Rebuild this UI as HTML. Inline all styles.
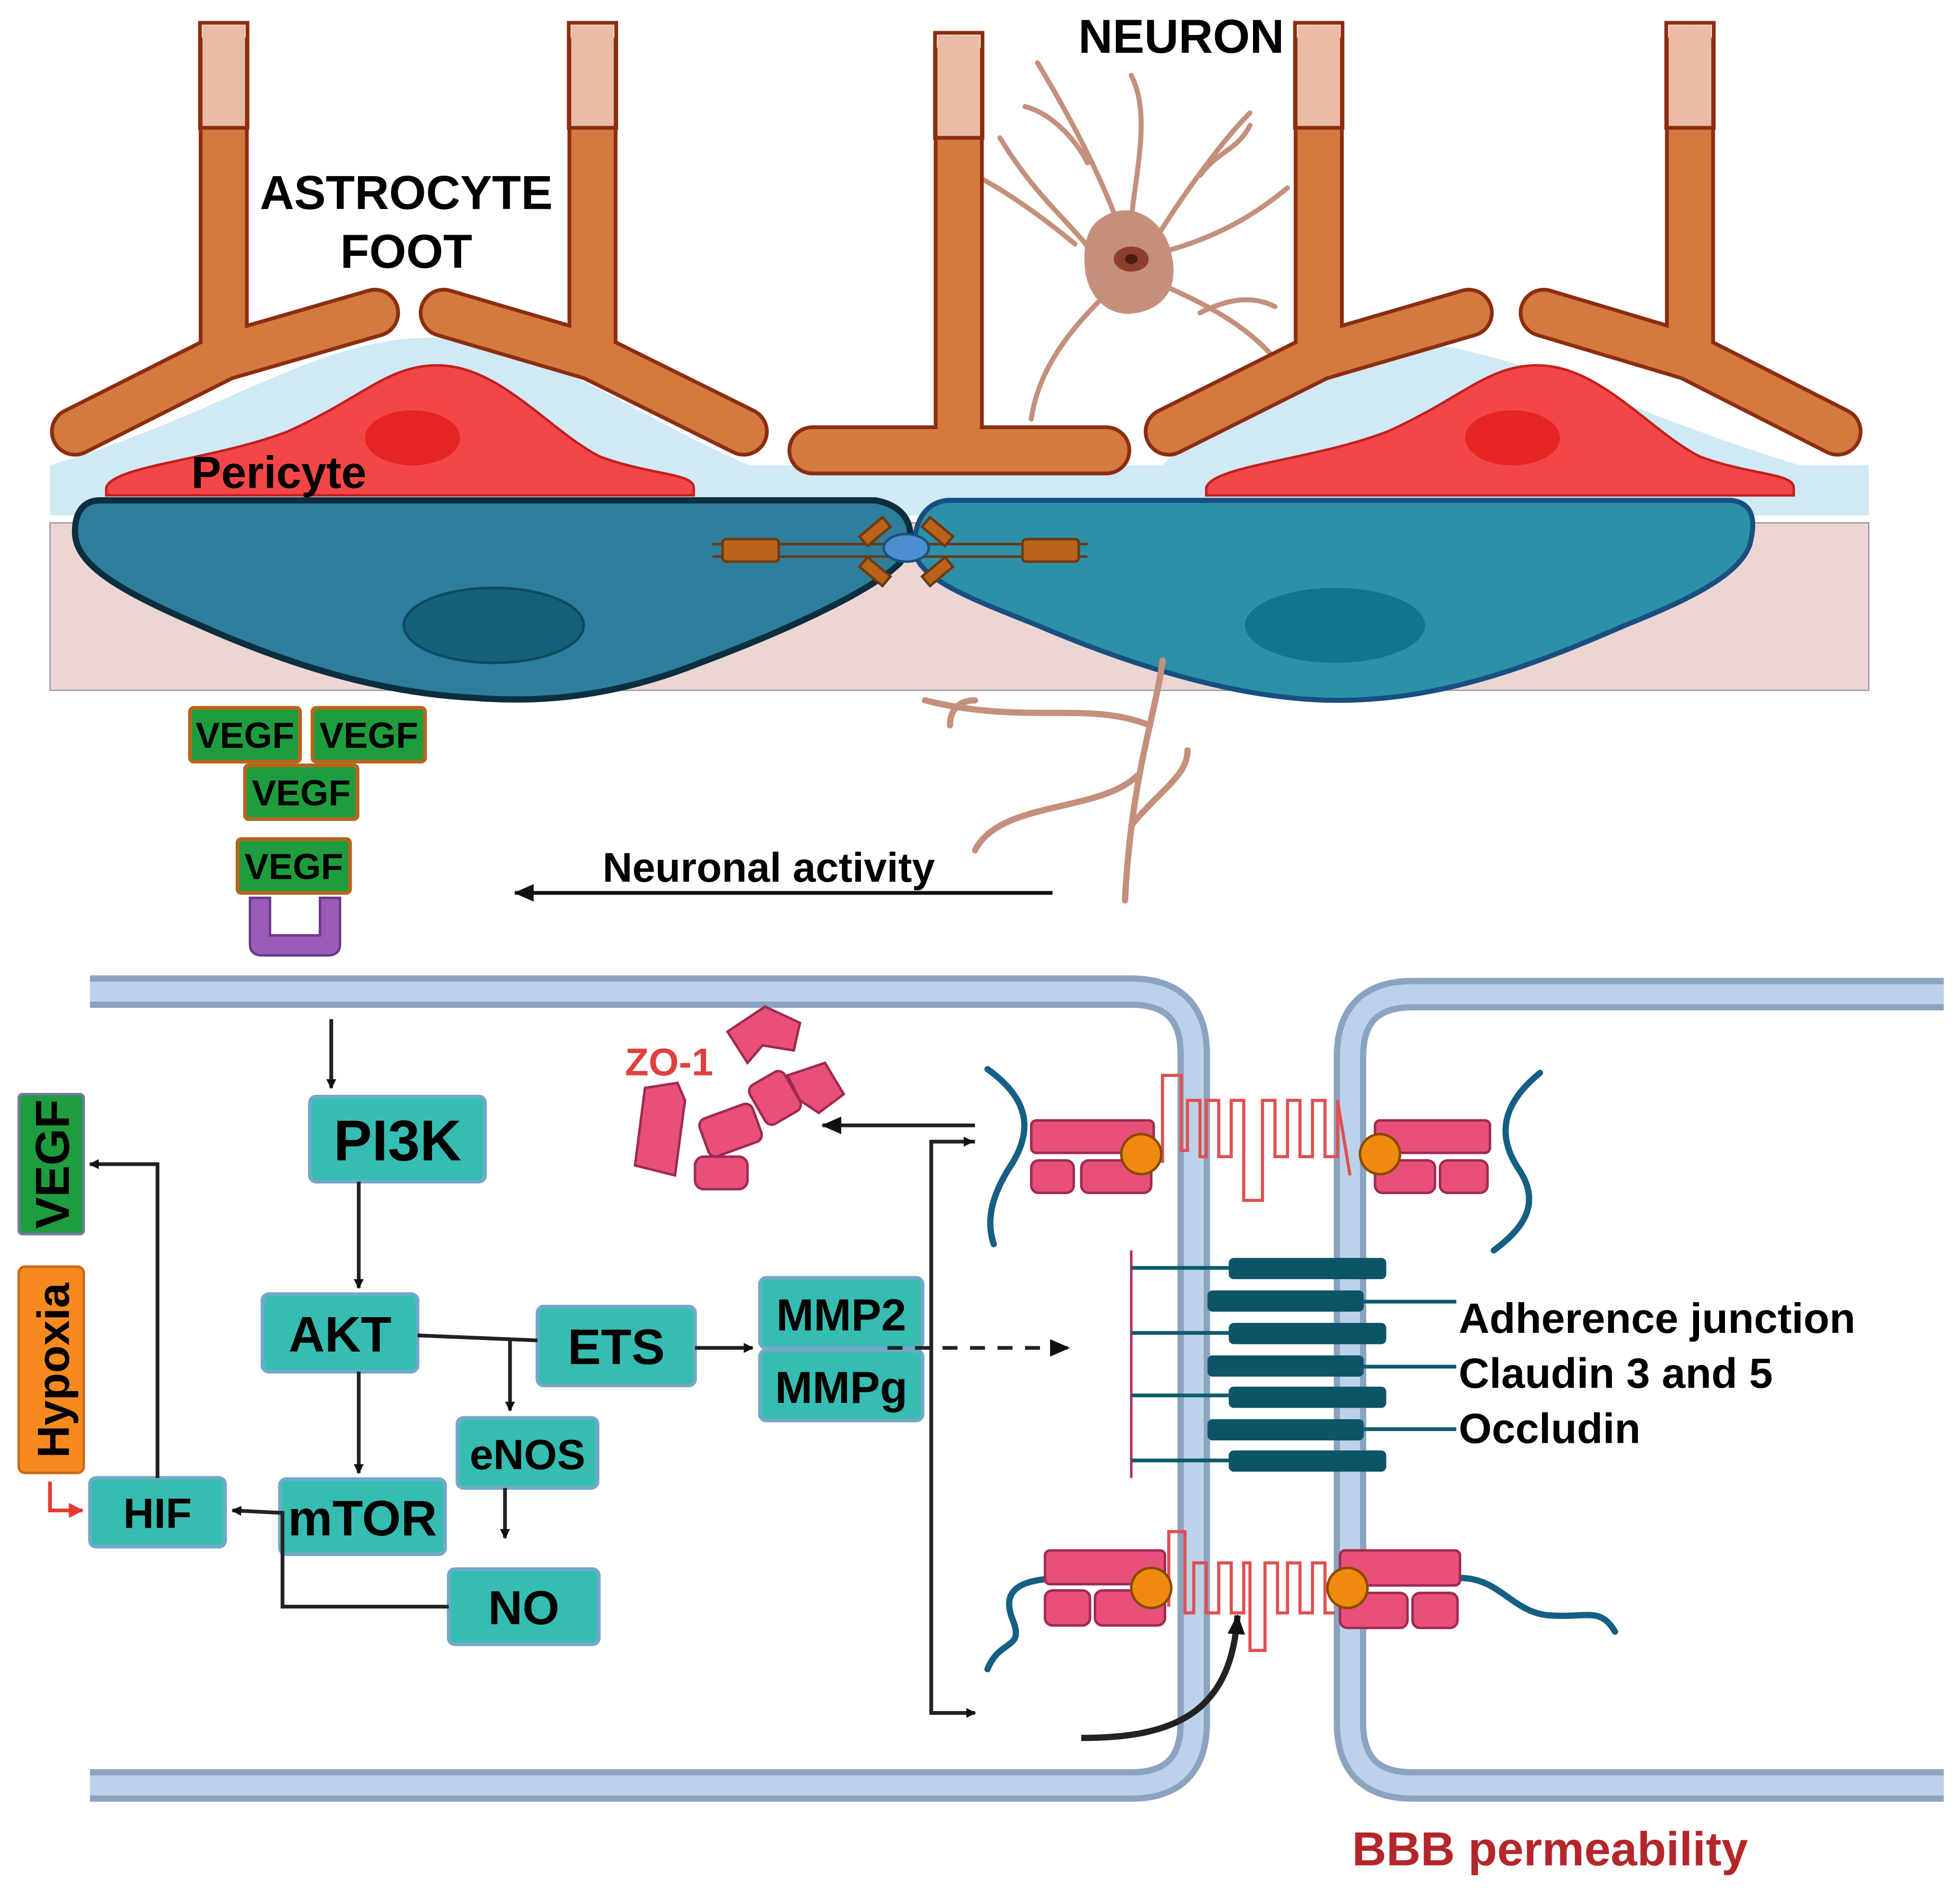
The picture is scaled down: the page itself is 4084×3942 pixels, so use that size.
<!DOCTYPE html>
<html><head><meta charset="utf-8"><style>
html,body{margin:0;padding:0;background:#fff}
svg{display:block}
text{font-family:"Liberation Sans",Arial,sans-serif;font-weight:bold}
</style></head><body>
<svg width="4084" height="3942" viewBox="0 0 1568 1513" xmlns="http://www.w3.org/2000/svg">
<defs>
<marker id="ar" markerWidth="8" markerHeight="8" refX="7" refY="4" orient="auto" markerUnits="userSpaceOnUse"><path d="M0,0 L8,4 L0,8 z" fill="#111"/></marker>
<marker id="arb" markerWidth="16" markerHeight="14" refX="15" refY="7" orient="auto" markerUnits="userSpaceOnUse"><path d="M0,0 L16,7 L0,14 z" fill="#111"/></marker>
<marker id="arr" markerWidth="12" markerHeight="12" refX="11" refY="6" orient="auto" markerUnits="userSpaceOnUse"><path d="M0,0 L12,6 L0,12 z" fill="#e53b2e"/></marker>
</defs>
<rect width="1568" height="1513" fill="#fff"/>

<path d="M40,372 L40,412 L1495,412 L1495,372 L1440,372 C1300,330 1200,270 1100,272 C1000,275 960,340 930,372 L600,372 C500,330 430,268 340,270 C250,272 180,330 40,372 z" fill="#cfe9f5"/>
<rect x="40" y="418" width="1455" height="134" fill="#ecd5d3" stroke="#999" stroke-width="1"/>

<path d="M85,390 C90,372 170,368 230,345 C290,318 310,292 350,292 C400,292 440,345 480,365 C520,380 555,378 555,390 L555,396 L85,396 z" fill="#f34747" stroke="#c41f1f" stroke-width="2"/>
<ellipse cx="330" cy="350" rx="38" ry="22" fill="#e52424"/>
<path d="M965,390 C970,372 1050,368 1110,345 C1170,318 1190,292 1230,292 C1280,292 1320,345 1360,365 C1400,380 1435,378 1435,390 L1435,396 L965,396 z" fill="#f34747" stroke="#c41f1f" stroke-width="2"/>
<ellipse cx="1210" cy="350" rx="38" ry="22" fill="#e52424"/>

<path d="M80,400 L700,400 C730,405 735,430 720,450 C700,470 640,500 560,530 C490,558 430,562 380,558 C320,555 250,540 160,500 C90,470 60,450 60,425 C60,408 68,400 80,400 z" fill="#2d7e9a" stroke="#0b2f40" stroke-width="5"/>
<ellipse cx="395" cy="500" rx="72" ry="30" fill="#15607a" stroke="#0e4a60" stroke-width="2"/>
<path d="M760,400 L1385,400 C1402,402 1405,415 1400,435 C1392,460 1350,480 1300,500 C1220,535 1150,560 1070,560 C990,560 900,530 830,500 C780,480 740,465 733,445 C728,420 740,400 760,400 z" fill="#2c90a8" stroke="#174f80" stroke-width="4"/>
<ellipse cx="1068" cy="500" rx="72" ry="30" fill="#127590"/>

<g stroke="#6b3a12" stroke-width="2" fill="#b8621c">
<line x1="570" y1="435" x2="870" y2="435"/><line x1="570" y1="445" x2="870" y2="445"/>
<rect x="578" y="431" width="45" height="18" rx="3"/>
<rect x="818" y="431" width="45" height="18" rx="3"/>
<rect x="688" y="420" width="24" height="10" transform="rotate(-40 700 425)"/>
<rect x="688" y="452" width="24" height="10" transform="rotate(40 700 457)"/>
<rect x="738" y="420" width="24" height="10" transform="rotate(40 750 425)"/>
<rect x="738" y="452" width="24" height="10" transform="rotate(-40 750 457)"/>
</g>
<ellipse cx="725" cy="438" rx="18" ry="11" fill="#4b8fd0" stroke="#1d4f7a" stroke-width="2"/>

<g stroke="#c4907c" fill="none" stroke-linecap="round">
<path d="M880,210 C860,180 830,160 800,110 M860,195 C830,170 800,150 780,140 M895,180 C880,140 860,100 830,50 M870,130 C860,110 840,90 820,85 M905,175 C910,130 920,90 905,60 M925,190 C950,150 980,110 1000,90 M960,140 C975,120 990,120 1000,100 M935,200 C970,190 1000,175 1030,150 M935,230 C980,250 1010,270 1030,300 M960,250 C980,240 1000,235 1020,245 M880,240 C850,270 830,300 825,335" stroke-width="4"/>
<path d="M930,528 C925,570 905,620 900,720 M920,580 C870,560 820,580 740,560 M910,620 C880,650 800,640 780,680 M905,660 C930,630 950,620 950,600 M780,560 C770,560 760,565 760,580" stroke-width="5"/>
</g>
<path d="M880,175 C900,160 925,170 935,195 C945,225 935,245 910,250 C885,255 870,235 868,215 C866,195 870,182 880,175 z" fill="#c4907c"/>
<ellipse cx="905" cy="207" rx="14" ry="10" fill="#8c3f2c"/>
<ellipse cx="905" cy="207" rx="5" ry="4" fill="#4a1c10"/>

<g fill="none" stroke-linecap="round" stroke-linejoin="round">
<g stroke="#8b2e10" stroke-width="40">
<path d="M179,40 L179,285 L60,345 M179,285 L300,250"/>
<path d="M474,40 L474,285 L595,345 M474,285 L355,250"/>
<path d="M767,48 L767,340 M650,360 L885,360"/>
<path d="M1055,40 L1055,285 L935,345 M1055,285 L1175,250"/>
<path d="M1352,40 L1352,285 L1470,345 M1352,285 L1235,250"/>
</g>
<g stroke="#d27a3f" stroke-width="34">
<path d="M179,40 L179,285 L60,345 M179,285 L300,250"/>
<path d="M474,40 L474,285 L595,345 M474,285 L355,250"/>
<path d="M767,48 L767,340 M650,360 L885,360"/>
<path d="M1055,40 L1055,285 L935,345 M1055,285 L1175,250"/>
<path d="M1352,40 L1352,285 L1470,345 M1352,285 L1235,250"/>
</g>
</g>
<g fill="#eabba5">
<rect x="162" y="20" width="34" height="82"/><rect x="457" y="20" width="34" height="82"/>
<rect x="750" y="28" width="34" height="82"/><rect x="1038" y="20" width="34" height="82"/>
<rect x="1335" y="20" width="34" height="82"/>
</g>
<g stroke="#8b2e10" stroke-width="3" fill="none">
<rect x="160" y="18" width="38" height="84"/><rect x="455" y="18" width="38" height="84"/>
<rect x="748" y="26" width="38" height="84"/><rect x="1036" y="18" width="38" height="84"/>
<rect x="1333" y="18" width="38" height="84"/>
</g>

<text x="325" y="167" font-size="38" text-anchor="middle">ASTROCYTE</text>
<text x="325" y="214" font-size="38" text-anchor="middle">FOOT</text>
<text x="945" y="42" font-size="38" text-anchor="middle">NEURON</text>
<text x="153" y="390" font-size="36">Pericyte</text>

<g fill="#1f9d3e" stroke="#b5651d" stroke-width="3">
<rect x="152" y="566" width="88" height="43" rx="3"/><rect x="250" y="566" width="90" height="43" rx="3"/>
<rect x="196" y="612" width="90" height="43" rx="3"/><rect x="190" y="671" width="90" height="43" rx="3"/>
</g>
<g font-size="29" text-anchor="middle">
<text x="196" y="598">VEGF</text><text x="295" y="598">VEGF</text>
<text x="241" y="644">VEGF</text><text x="235" y="703">VEGF</text>
</g>
<path d="M200,718 L200,755 Q200,764 210,764 L262,764 Q272,764 272,755 L272,718 L256,718 L256,748 L216,748 L216,718 z" fill="#9b5cb8" stroke="#6b3a8a" stroke-width="2"/>

<text x="615" y="705" font-size="33" text-anchor="middle">Neuronal activity</text>
<line x1="842" y1="714" x2="412" y2="714" stroke="#111" stroke-width="3" marker-end="url(#arb)"/>

<g fill="none" stroke-linejoin="round">
<path d="M72,793 L905,793 Q955,793 955,843 L955,1378 Q955,1428 905,1428 L72,1428" stroke="#8aa3c0" stroke-width="26"/>
<path d="M72,793 L905,793 Q955,793 955,843 L955,1378 Q955,1428 905,1428 L72,1428" stroke="#bcd2ea" stroke-width="16"/>
<path d="M1555,795 L1130,795 Q1080,795 1080,845 L1080,1378 Q1080,1428 1130,1428 L1555,1428" stroke="#8aa3c0" stroke-width="26"/>
<path d="M1555,795 L1130,795 Q1080,795 1080,845 L1080,1378 Q1080,1428 1130,1428 L1555,1428" stroke="#bcd2ea" stroke-width="16"/>
</g>

<g fill="#36bdb1" stroke="#6fa9c9" stroke-width="3">
<rect x="248" y="877" width="140" height="68" rx="5"/>
<rect x="210" y="1035" width="124" height="62" rx="5"/>
<rect x="430" y="1045" width="126" height="63" rx="5"/>
<rect x="608" y="1022" width="130" height="56" rx="5"/>
<rect x="608" y="1080" width="130" height="56" rx="5"/>
<rect x="366" y="1134" width="112" height="56" rx="5"/>
<rect x="224" y="1183" width="132" height="60" rx="5"/>
<rect x="359" y="1255" width="120" height="60" rx="5"/>
<rect x="72" y="1182" width="108" height="55" rx="5"/>
</g>
<g text-anchor="middle">
<text x="318" y="928" font-size="46">PI3K</text>
<text x="272" y="1081" font-size="40">AKT</text>
<text x="493" y="1091" font-size="40">ETS</text>
<text x="673" y="1064" font-size="36">MMP2</text>
<text x="673" y="1122" font-size="36">MMPg</text>
<text x="422" y="1175" font-size="34">eNOS</text>
<text x="290" y="1228" font-size="40">mTOR</text>
<text x="419" y="1299" font-size="38">NO</text>
<text x="126" y="1222" font-size="34">HIF</text>
</g>
<rect x="15" y="875" width="52" height="112" rx="3" fill="#1f9d3e" stroke="#77a" stroke-width="2"/>
<rect x="15" y="1013" width="52" height="165" rx="5" fill="#f68a1f" stroke="#c96a14" stroke-width="2"/>
<text transform="translate(55,931) rotate(-90)" font-size="38" text-anchor="middle">VEGF</text>
<text transform="translate(55,1096) rotate(-90)" font-size="36" text-anchor="middle">Hypoxia</text>

<g stroke="#222" stroke-width="3" fill="none">
<line x1="265" y1="815" x2="265" y2="870" marker-end="url(#ar)"/>
<line x1="287" y1="945" x2="287" y2="1030" marker-end="url(#ar)"/>
<line x1="287" y1="1097" x2="287" y2="1178" marker-end="url(#ar)"/>
<line x1="334" y1="1068" x2="430" y2="1072"/>
<line x1="408" y1="1072" x2="408" y2="1128" marker-end="url(#ar)"/>
<line x1="404" y1="1190" x2="404" y2="1230" marker-end="url(#ar)"/>
<line x1="556" y1="1078" x2="602" y2="1078" marker-end="url(#ar)"/>
<path d="M359,1285 L226,1285 L226,1210 L186,1208" marker-end="url(#ar)"/>
<path d="M126,1182 L126,931 L72,931" marker-end="url(#ar)"/>
<path d="M710,1078 L855,1078" stroke-dasharray="12,10" marker-end="url(#arb)"/>
<path d="M780,900 L658,900" marker-end="url(#arb)"/>
<path d="M780,913 L745,913 L745,1370 L780,1370" marker-end="url(#ar)"/>
<path d="M778,913 L778,913" marker-end="url(#ar)"/>
<path d="M865,1390 C940,1390 985,1370 990,1292" stroke-width="5" marker-end="url(#arb)"/>
</g>
<path d="M40,1185 L40,1208 L66,1208" stroke="#e53b2e" stroke-width="3" fill="none" marker-end="url(#arr)"/>

<g fill="#e8507a" stroke="#a02a50" stroke-width="2">
<path d="M582,825 L612,805 L640,818 L635,840 L610,836 L598,850 z"/>
<rect x="604" y="860" width="32" height="36" rx="6" transform="rotate(-30 620 878)"/>
<path d="M630,860 L660,850 L675,875 L655,890 L640,880 z"/>
<path d="M516,870 L542,866 L548,880 L540,940 L508,932 z"/>
<rect x="562" y="888" width="45" height="32" rx="6" transform="rotate(-20 584 904)"/>
<rect x="556" y="925" width="42" height="26" rx="7"/>
</g>
<text x="500" y="860" font-size="31" fill="#e04040">ZO-1</text>

<g fill="none" stroke="#155f84" stroke-width="5" stroke-linecap="round">
<path d="M790,855 C825,880 825,905 810,930 C790,960 790,980 795,995"/>
<path d="M1232,858 C1205,880 1195,905 1215,935 C1235,965 1215,985 1195,1000"/>
<path d="M790,1335 C800,1310 820,1320 810,1295 C800,1270 820,1265 836,1263"/>
<path d="M1168,1262 C1200,1262 1210,1290 1240,1292 C1270,1294 1280,1285 1292,1305"/>
</g>
<g fill="#e8507a" stroke="#a02a50" stroke-width="2">
<rect x="825" y="896" width="98" height="26" rx="4"/>
<rect x="825" y="928" width="34" height="26" rx="6"/>
<rect x="865" y="928" width="56" height="26" rx="6"/>
<rect x="1100" y="896" width="92" height="26" rx="4"/>
<rect x="1152" y="928" width="38" height="26" rx="6"/>
<rect x="1100" y="928" width="48" height="26" rx="6"/>
<rect x="836" y="1240" width="96" height="27" rx="4"/>
<rect x="836" y="1272" width="36" height="28" rx="6"/>
<rect x="876" y="1272" width="56" height="28" rx="6"/>
<rect x="1072" y="1240" width="96" height="28" rx="4"/>
<rect x="1130" y="1274" width="36" height="28" rx="6"/>
<rect x="1072" y="1274" width="54" height="28" rx="6"/>
</g>
<g fill="none" stroke="#e05050" stroke-width="2.5">
<path d="M930,930 L930,860 L945,860 L945,920 L950,920 L950,880 L960,880 L960,925 L965,925 L965,880 L975,880 L975,925 L985,925 L985,880 L995,880 L995,960 L1010,960 L1010,880 L1020,880 L1020,925 L1030,925 L1030,880 L1040,880 L1040,925 L1050,925 L1050,880 L1060,880 L1060,925 L1070,925 L1070,880 L1080,940"/>
<path d="M935,1285 L935,1225 L948,1225 L948,1290 L955,1290 L955,1250 L965,1250 L965,1290 L975,1290 L975,1250 L985,1250 L985,1290 L995,1290 L995,1250 L1000,1250 L1000,1320 L1012,1320 L1012,1250 L1022,1250 L1022,1290 L1030,1290 L1030,1250 L1040,1250 L1040,1290 L1050,1290 L1050,1250 L1060,1250 L1060,1290 L1068,1290"/>
</g>
<g fill="#f08a0f" stroke="#8a4a00" stroke-width="2">
<circle cx="913" cy="923" r="16"/><circle cx="1104" cy="923" r="16"/>
<circle cx="921" cy="1270" r="16"/><circle cx="1078" cy="1270" r="16"/>
</g>

<line x1="905" y1="1000" x2="905" y2="1182" stroke="#b0305a" stroke-width="2"/>
<g stroke="#0f5a6a" stroke-width="3">
<line x1="905" y1="1014" x2="985" y2="1014"/><line x1="905" y1="1066" x2="985" y2="1066"/>
<line x1="905" y1="1116" x2="985" y2="1116"/><line x1="905" y1="1168" x2="985" y2="1168"/>
<line x1="1090" y1="1041" x2="1165" y2="1041"/><line x1="1090" y1="1093" x2="1165" y2="1093"/>
<line x1="1090" y1="1143" x2="1165" y2="1143"/>
</g>
<g fill="#0b5567">
<rect x="983" y="1006" width="126" height="17" rx="4"/><rect x="966" y="1032" width="125" height="17" rx="4"/>
<rect x="983" y="1058" width="126" height="17" rx="4"/><rect x="966" y="1084" width="125" height="17" rx="4"/>
<rect x="983" y="1109" width="126" height="17" rx="4"/><rect x="966" y="1135" width="125" height="17" rx="4"/>
<rect x="983" y="1160" width="126" height="17" rx="4"/>
</g>
<text x="1167" y="1066" font-size="34">Adherence junction</text>
<text x="1167" y="1110" font-size="34">Claudin 3 and 5</text>
<text x="1167" y="1154" font-size="34">Occludin</text>

<text x="1240" y="1492" font-size="38" fill="#b3272b" text-anchor="middle">BBB permeability</text>
</svg>
</body></html>
